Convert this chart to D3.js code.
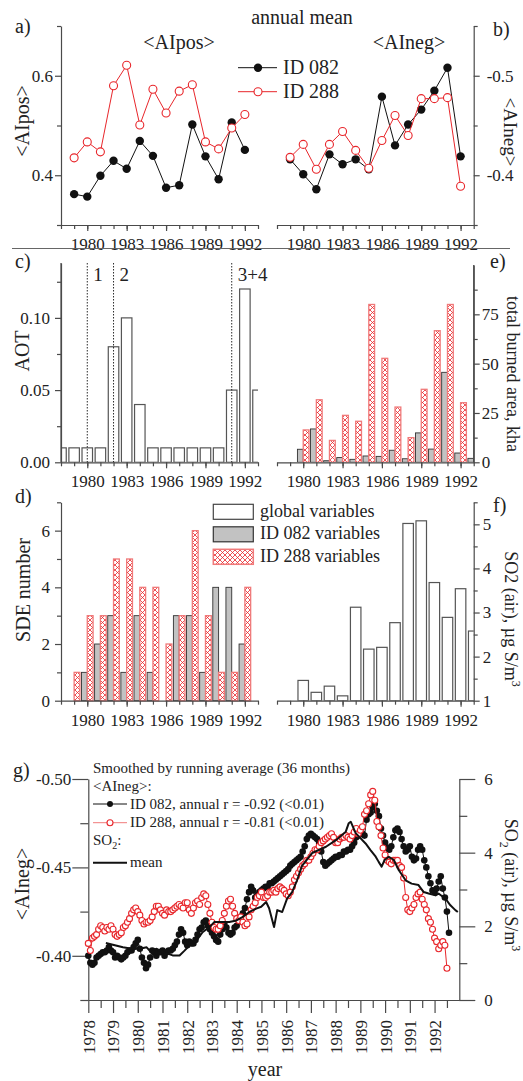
<!DOCTYPE html>
<html>
<head>
<meta charset="utf-8">
<script src="https://cdn.jsdelivr.net/npm/d3@7"></script>
<style>
  html, body { margin: 0; padding: 0; background: #fff; }
  svg { display: block; }
</style>
</head>
<body>
<div id="chart"></div>
<script>
// --- annual means, panels a) and b) ---
const annualYears = [1979, 1980, 1981, 1982, 1983, 1984, 1985, 1986, 1987, 1988, 1989, 1990, 1991, 1992];
const aiPos082 = [0.362, 0.357, 0.399, 0.429, 0.413, 0.469, 0.439, 0.375, 0.380, 0.502, 0.438, 0.392, 0.506, 0.451];
const aiPos288 = [0.435, 0.467, 0.447, 0.580, 0.621, 0.501, 0.573, 0.525, 0.569, 0.582, 0.467, 0.453, 0.495, 0.522];
const aiNeg082 = [-0.416, -0.401, -0.386, -0.421, -0.411, -0.416, -0.406, -0.479, -0.430, -0.451, -0.466, -0.485, -0.508, -0.419];
const aiNeg288 = [-0.418, -0.431, -0.406, -0.431, -0.444, -0.425, -0.407, -0.435, -0.460, -0.440, -0.477, -0.477, -0.478, -0.389];

// --- c) aerosol optical thickness ---
const aotYears = [1978, 1979, 1980, 1981, 1982, 1983, 1984, 1985, 1986, 1987, 1988, 1989, 1990, 1991, 1992, 1993];
const aot = [0.01, 0.01, 0.01, 0.01, 0.08, 0.10, 0.04, 0.01, 0.01, 0.01, 0.01, 0.01, 0.01, 0.05, 0.12, 0.05];
const eruptionYears = [1980, 1982, 1991];
const eruptionLabels = ['1', '2', '3+4'];

// --- e) total burned area, kha ---
const burnYears = [1980, 1981, 1982, 1983, 1984, 1985, 1986, 1987, 1988, 1989, 1990, 1991, 1992, 1993];
const burn082 = [6.6, 16.9, 0.8, 2.4, 1.5, 3.2, 3.0, 6.1, 1.8, 14.9, 6.7, 45.6, 4.7, 2.0];
const burn288 = [16.4, 31.7, 11.1, 23.8, 20.8, 80, 52.7, 28, 12.5, 37, 66.7, 80, 30.2, 0];

// --- d) SDE number ---
const sdeYears = [1979, 1980, 1981, 1982, 1983, 1984, 1985, 1986, 1987, 1988, 1989, 1990, 1991, 1992];
const sde082 = [0, 1, 2, 3, 1, 3, 1, 0, 3, 3, 1, 4, 4, 2];
const sde288 = [1, 3, 3, 5, 5, 4, 4, 2, 3, 6, 3, 1, 1, 4];

// --- f) SO2 (air) ---
const so2Years = [1980, 1981, 1982, 1983, 1984, 1985, 1986, 1987, 1988, 1989, 1990, 1991, 1992, 1993];
const so2 = [1.46, 1.19, 1.33, 1.11, 3.12, 2.17, 2.21, 2.77, 5.02, 5.08, 3.68, 2.89, 3.54, 2.58];

// --- g) monthly smoothed <AIneg>, first value at Jan 1978 ---
const smooth082 = [
  -0.400, -0.396, -0.395, -0.396, -0.399, -0.400, -0.401, -0.402, -0.402, -0.403, -0.405, -0.403,
  -0.402, -0.399, -0.400, -0.399, -0.398, -0.399, -0.400, -0.402, -0.403, -0.403, -0.405, -0.407,
  -0.409, -0.404, -0.399, -0.396, -0.393, -0.395, -0.399, -0.403, -0.402, -0.400, -0.402, -0.402,
  -0.403, -0.400, -0.402, -0.403, -0.403, -0.404, -0.406, -0.408, -0.412, -0.415, -0.413, -0.408,
  -0.406, -0.408, -0.407, -0.407, -0.409, -0.412, -0.415, -0.416, -0.419, -0.420, -0.417, -0.415,
  -0.413, -0.411, -0.409, -0.408, -0.412, -0.415, -0.418, -0.416, -0.413, -0.412, -0.413, -0.416,
  -0.417, -0.420, -0.421, -0.424, -0.427, -0.432, -0.436, -0.439, -0.437, -0.433, -0.434, -0.436,
  -0.437, -0.438, -0.439, -0.439, -0.441, -0.441, -0.442, -0.443, -0.444, -0.445, -0.446, -0.447,
  -0.448, -0.449, -0.451, -0.452, -0.453, -0.454, -0.455, -0.456, -0.459, -0.462, -0.466, -0.468,
  -0.469, -0.468, -0.467, -0.466, -0.464, -0.459, -0.453, -0.451, -0.452, -0.453, -0.454, -0.455,
  -0.456, -0.456, -0.457, -0.457, -0.459, -0.459, -0.460, -0.460, -0.462, -0.464, -0.467, -0.468,
  -0.469, -0.469, -0.468, -0.477, -0.480, -0.481, -0.484, -0.486, -0.482, -0.479, -0.472, -0.468,
  -0.464, -0.461, -0.460, -0.462, -0.467, -0.471, -0.472, -0.470, -0.466, -0.462, -0.459, -0.460,
  -0.462, -0.456, -0.454, -0.455, -0.460, -0.462, -0.460, -0.454, -0.450, -0.445, -0.441, -0.437,
  -0.436, -0.438, -0.442, -0.445, -0.438, -0.433, -0.425, -0.413
];
const smooth288 = [
  -0.407, -0.403, -0.410, -0.411, -0.412, -0.415, -0.417, -0.416, -0.414, -0.416, -0.415, -0.417,
  -0.415, -0.412, -0.411, -0.412, -0.413, -0.416, -0.417, -0.419, -0.421, -0.424, -0.426, -0.427,
  -0.425, -0.423, -0.420, -0.418, -0.419, -0.419, -0.420, -0.422, -0.425, -0.428, -0.428, -0.426,
  -0.424, -0.423, -0.426, -0.425, -0.425, -0.426, -0.427, -0.428, -0.429, -0.428, -0.427, -0.430,
  -0.430, -0.426, -0.424, -0.427, -0.430, -0.431, -0.429, -0.433, -0.435, -0.434, -0.429, -0.424,
  -0.419, -0.416, -0.415, -0.415, -0.417, -0.420, -0.424, -0.428, -0.431, -0.432, -0.428, -0.424,
  -0.421, -0.420, -0.422, -0.419, -0.417, -0.418, -0.422, -0.426, -0.428, -0.430, -0.433, -0.434,
  -0.436, -0.433, -0.433, -0.434, -0.436, -0.436, -0.437, -0.436, -0.438, -0.439, -0.438, -0.437,
  -0.435, -0.434, -0.436, -0.439, -0.443, -0.445, -0.447, -0.449, -0.451, -0.452, -0.454, -0.454,
  -0.456, -0.458, -0.460, -0.460, -0.462, -0.464, -0.465, -0.466, -0.467, -0.468, -0.469, -0.467,
  -0.464, -0.464, -0.466, -0.467, -0.467, -0.468, -0.467, -0.466, -0.468, -0.470, -0.472, -0.469,
  -0.471, -0.473, -0.480, -0.482, -0.486, -0.491, -0.493, -0.488, -0.476, -0.473, -0.468, -0.461,
  -0.457, -0.454, -0.453, -0.452, -0.454, -0.454, -0.454, -0.451, -0.450, -0.444, -0.433, -0.426,
  -0.425, -0.427, -0.429, -0.433, -0.435, -0.436, -0.432, -0.429, -0.426, -0.421, -0.419, -0.415,
  -0.410, -0.408, -0.404, -0.406, -0.408, -0.406, -0.393
];
// SO2 mean (running average)
const so2MeanYears = [
  1978.71, 1978.99, 1979.40, 1979.76, 1980.08, 1980.36, 1980.48, 1980.77, 1981.01, 1981.21,
  1981.41, 1981.69, 1981.89, 1982.09, 1982.38, 1982.62, 1982.90, 1983.10, 1983.70, 1983.99,
  1984.23, 1984.51, 1984.79, 1984.99, 1985.19, 1985.31, 1985.51, 1985.64, 1985.84, 1986.04,
  1986.24, 1986.44, 1986.64, 1987.05, 1987.61, 1988.01, 1988.41, 1988.53, 1988.61, 1988.81,
  1989.21, 1989.41, 1989.62, 1989.74, 1989.86, 1989.98, 1990.15, 1990.35, 1990.55, 1990.83,
  1991.07, 1991.35, 1991.56, 1991.76, 1992.04, 1992.16, 1992.44, 1992.64, 1992.84, 1992.94
];
const so2Mean = [
  1.55, 1.50, 1.43, 1.39, 1.39, 1.43, 1.34, 1.39, 1.30, 1.26,
  1.21, 1.21, 1.34, 1.48, 1.62, 1.84, 1.98, 2.12, 2.12, 2.16,
  2.25, 2.39, 2.48, 2.53, 2.66, 2.49, 1.98, 2.44, 2.39, 2.76,
  2.93, 3.25, 3.64, 3.99, 4.16, 4.34, 4.57, 4.80, 4.84, 4.53,
  4.25, 4.07, 3.89, 3.75, 3.62, 3.80, 3.89, 3.80, 3.53, 3.25,
  3.16, 3.12, 2.93, 2.89, 2.84, 2.89, 2.75, 2.57, 2.44, 2.39
];

const yearLabels = [1980, 1983, 1986, 1989, 1992];
const allYears = d3.range(1978, 1994);

// --- look ---
const W = 523, H = 1081;
const FONT = '"Liberation Serif", "Times New Roman", serif';
const AX = '#4a4a4a';
const TXT = '#222';
const RED = '#e8262b';
const RED_SOFT = '#f07a7a';

const svg = d3.select('#chart').append('svg')
  .attr('width', W)
  .attr('height', H)
  .attr('viewBox', `0 0 ${W} ${H}`);
svg.append('rect').attr('width', W).attr('height', H).attr('fill', '#fff');

const defs = svg.append('defs');
const hatch = defs.append('pattern')
  .attr('id', 'hatch')
  .attr('patternUnits', 'userSpaceOnUse')
  .attr('width', 5).attr('height', 5);
hatch.append('rect').attr('width', 5).attr('height', 5).attr('fill', '#fff');
hatch.append('path').attr('d', 'M0,0L5,5M5,0L0,5').attr('stroke', RED).attr('stroke-width', 0.8);

function clip(id, x0, y0, x1, y1) {
  defs.append('clipPath').attr('id', id).append('rect')
    .attr('x', x0).attr('y', y0).attr('width', x1 - x0).attr('height', y1 - y0);
}

function text(x, y, s, size, opts = {}) {
  const t = svg.append('text')
    .attr('x', x).attr('y', y)
    .attr('font-family', FONT)
    .attr('font-size', size)
    .attr('fill', TXT)
    .attr('text-anchor', opts.anchor || 'start')
    .text(s);
  if (opts.transform) t.attr('transform', opts.transform).attr('x', 0).attr('y', 0);
  return t;
}

function styleAxis(g) {
  g.attr('font-size', null).attr('font-family', null);
  g.selectAll('.domain').attr('stroke', AX).attr('stroke-width', 1.2);
  g.selectAll('.tick line').attr('stroke', AX).attr('stroke-width', 1.2);
  g.selectAll('text').attr('font-family', FONT).attr('font-size', 17).attr('fill', TXT);
}

// one axis with short unlabeled ticks and a second one with longer labeled ticks
function axisPair(makeGen, transform, majors, minors, majSize, minSize, pad, fmt) {
  const g1 = svg.append('g').attr('transform', transform)
    .call(makeGen().tickValues(minors).tickSize(minSize).tickSizeOuter(0).tickFormat(''));
  const g2 = svg.append('g').attr('transform', transform)
    .call(makeGen().tickValues(majors).tickSize(majSize).tickSizeOuter(0).tickPadding(pad).tickFormat(fmt));
  g2.select('.domain').remove();
  styleAxis(g1);
  styleAxis(g2);
  return g2;
}

function dotSeries(xs, ys, yrs, vals, color, lineColor, filled, r) {
  const pts = vals.map((v, i) => [yrs[i], v]);
  svg.append('path').datum(pts)
    .attr('fill', 'none')
    .attr('stroke', lineColor)
    .attr('stroke-width', 1)
    .attr('d', d3.line().x(d => xs(d[0])).y(d => ys(d[1])));
  svg.append('g').selectAll('circle').data(pts).join('circle')
    .attr('cx', d => xs(d[0]))
    .attr('cy', d => ys(d[1]))
    .attr('r', r)
    .attr('fill', filled ? color : '#fff')
    .attr('stroke', filled ? 'none' : color)
    .attr('stroke-width', 1.1);
}

const fYear = d3.format('d');

// ================= a) <AIpos> =================
const xA = d3.scaleLinear().domain([1978, 1993]).range([61, 258]);
const yA = d3.scaleLinear().domain([0.3, 0.7]).range([225, 26]);
axisPair(() => d3.axisBottom(xA), 'translate(0,225)', yearLabels, allYears, 6, 4, 7, fYear);
axisPair(() => d3.axisLeft(yA), 'translate(61,0)', [0.4, 0.6], [0.3, 0.5, 0.7], 6, 4, 2, d => d.toFixed(1));
dotSeries(xA, yA, annualYears, aiPos082, '#111', '#111', true, 4.2);
dotSeries(xA, yA, annualYears, aiPos288, RED, RED, false, 4);

// ================= b) <AIneg> =================
const xB = d3.scaleLinear().domain([1978, 1993]).range([277, 473.7]);
const yB = d3.scaleLinear().domain([-0.35, -0.55]).range([225, 26]);
axisPair(() => d3.axisBottom(xB), 'translate(0,225)', yearLabels, allYears, 6, 4, 7, fYear);
axisPair(() => d3.axisRight(yB), 'translate(473.7,0)', [-0.4, -0.5], [-0.35, -0.45, -0.55], 6, 4, 7, d => d.toFixed(1));
dotSeries(xB, yB, annualYears, aiNeg082, '#111', '#111', true, 4.2);
dotSeries(xB, yB, annualYears, aiNeg288, RED, RED, false, 4);

text(302, 24, 'annual mean', 20, { anchor: 'middle' });
text(179, 49, '<AIpos>', 20, { anchor: 'middle' });
text(409, 49, '<AIneg>', 20, { anchor: 'middle' });
text(15, 33, 'a)', 20);
text(493, 36, 'b)', 20);
text(0, 0, '<AIpos>', 20, { anchor: 'middle', transform: 'translate(29,121) rotate(-90)' });
text(0, 0, '<AIneg>', 19, { anchor: 'middle', transform: 'translate(504,132) rotate(90)' });

// legend a/b
svg.append('line').attr('x1', 238).attr('x2', 277).attr('y1', 67.7).attr('y2', 67.7).attr('stroke', '#111');
svg.append('circle').attr('cx', 258).attr('cy', 67.7).attr('r', 4.2).attr('fill', '#111');
svg.append('line').attr('x1', 238).attr('x2', 277).attr('y1', 91.7).attr('y2', 91.7).attr('stroke', RED);
svg.append('circle').attr('cx', 258).attr('cy', 91.7).attr('r', 4).attr('fill', '#fff').attr('stroke', RED).attr('stroke-width', 1.1);
text(283, 74, 'ID 082', 20);
text(283, 98, 'ID 288', 20);

// separator
svg.append('line').attr('x1', 12).attr('x2', 510).attr('y1', 248.5).attr('y2', 248.5)
  .attr('stroke', '#666').attr('stroke-width', 1.2);

// ================= c) AOT =================
const yC = d3.scaleLinear().domain([0, 0.138]).range([462.3, 263]);
clip('clipC', 61, 250, 258, 462.3);
svg.append('g').attr('clip-path', 'url(#clipC)')
  .selectAll('rect').data(aot).join('rect')
  .attr('x', (d, i) => xA(aotYears[i]) - 5.25)
  .attr('width', 10.5)
  .attr('y', d => yC(d))
  .attr('height', d => yC(0) - yC(d))
  .attr('fill', '#fff')
  .attr('stroke', '#555')
  .attr('stroke-width', 1.2);
svg.append('g').selectAll('line').data(eruptionYears).join('line')
  .attr('x1', d => xA(d)).attr('x2', d => xA(d))
  .attr('y1', 263).attr('y2', 462.3)
  .attr('stroke', '#111').attr('stroke-width', 0.9)
  .attr('stroke-dasharray', '1.5,1.5');
eruptionLabels.forEach((s, i) => {
  text(xA(eruptionYears[i]) + 6, 281, s, 19);
});
axisPair(() => d3.axisBottom(xA), 'translate(0,462.3)', yearLabels, allYears, 6, 4, 7, fYear);
axisPair(() => d3.axisLeft(yC), 'translate(61,0)', [0, 0.05, 0.10], [0.025, 0.075, 0.125], 6, 4, 5, d => d.toFixed(2));
// axis line to the top
svg.append('line').attr('x1', 61).attr('x2', 61).attr('y1', 263).attr('y2', 462.3).attr('stroke', AX).attr('stroke-width', 1.2);
text(15, 268, 'c)', 20);
text(0, 0, 'AOT', 20, { anchor: 'middle', transform: 'translate(29,351) rotate(-90)' });

// ================= e) burned area =================
const yE = d3.scaleLinear().domain([0, 100]).range([462.3, 265]);
clip('clipE', 277, 250, 473.7, 462.3);
const gE = svg.append('g').attr('clip-path', 'url(#clipE)');
gE.selectAll('rect.g').data(burn082).join('rect').attr('class', 'g')
  .attr('x', (d, i) => xB(burnYears[i]) - 5.8)
  .attr('width', 5.8)
  .attr('y', d => yE(d))
  .attr('height', d => yE(0) - yE(d))
  .attr('fill', '#c2c2c2').attr('stroke', '#333').attr('stroke-width', 0.9);
gE.selectAll('rect.r').data(burn288).join('rect').attr('class', 'r')
  .attr('x', (d, i) => xB(burnYears[i]))
  .attr('width', 5.8)
  .attr('y', d => yE(d))
  .attr('height', d => yE(0) - yE(d))
  .attr('fill', 'url(#hatch)').attr('stroke', RED_SOFT).attr('stroke-width', 1.3);
axisPair(() => d3.axisBottom(xB), 'translate(0,462.3)', yearLabels, allYears, 6, 4, 7, fYear);
axisPair(() => d3.axisRight(yE), 'translate(473.7,0)', [0, 25, 50, 75], [12.5, 37.5, 62.5, 87.5], 6, 4, 2, d3.format('d'));
svg.append('line').attr('x1', 473.7).attr('x2', 473.7).attr('y1', 265).attr('y2', 462.3).attr('stroke', AX).attr('stroke-width', 1.2);
text(490, 268, 'e)', 20);
text(0, 0, 'total burned area, kha', 18, { anchor: 'middle', transform: 'translate(507,374) rotate(90)' });

// ================= d) SDE number =================
const yD = d3.scaleLinear().domain([0, 7]).range([700.7, 502.3]);
const gD = svg.append('g');
gD.selectAll('rect.g').data(sde082).join('rect').attr('class', 'g')
  .attr('x', (d, i) => xA(sdeYears[i]) - 5.8)
  .attr('width', 5.8)
  .attr('y', d => yD(d))
  .attr('height', d => yD(0) - yD(d))
  .attr('fill', '#c2c2c2').attr('stroke', '#333').attr('stroke-width', 0.9)
  .attr('display', d => d > 0 ? null : 'none');
gD.selectAll('rect.r').data(sde288).join('rect').attr('class', 'r')
  .attr('x', (d, i) => xA(sdeYears[i]))
  .attr('width', 5.8)
  .attr('y', d => yD(d))
  .attr('height', d => yD(0) - yD(d))
  .attr('fill', 'url(#hatch)').attr('stroke', RED_SOFT).attr('stroke-width', 1.3)
  .attr('display', d => d > 0 ? null : 'none');
axisPair(() => d3.axisBottom(xA), 'translate(0,700.7)', yearLabels, allYears, 6, 4, 7, fYear);
axisPair(() => d3.axisLeft(yD), 'translate(61,0)', [0, 2, 4, 6], [1, 3, 5, 7], 6, 4, 5, d3.format('d'));
text(15, 503, 'd)', 20);
text(0, 0, 'SDE number', 20, { anchor: 'middle', transform: 'translate(30,590) rotate(-90)' });

// legend d
const legendD = [
  { label: 'global variables', fill: '#fff', stroke: '#444', w: 1.2 },
  { label: 'ID 082 variables', fill: '#c2c2c2', stroke: '#333', w: 1.2 },
  { label: 'ID 288 variables', fill: 'url(#hatch)', stroke: RED_SOFT, w: 1.5 }
];
legendD.forEach((d, i) => {
  const y = 504.3 + i * 22.5;
  svg.append('rect').attr('x', 213.3).attr('y', y).attr('width', 40).attr('height', 15)
    .attr('fill', d.fill).attr('stroke', d.stroke).attr('stroke-width', d.w);
  text(260, y + 12.5, d.label, 18);
});

// ================= f) SO2 =================
const yF = d3.scaleLinear().domain([1, 5.5]).range([700.7, 502.3]);
clip('clipF', 277, 490, 473.7, 700.7);
svg.append('g').attr('clip-path', 'url(#clipF)')
  .selectAll('rect').data(so2).join('rect')
  .attr('x', (d, i) => xB(so2Years[i]) - 5.25)
  .attr('width', 10.5)
  .attr('y', d => yF(d))
  .attr('height', d => yF(1) - yF(d))
  .attr('fill', '#fff').attr('stroke', '#555').attr('stroke-width', 1.2);
axisPair(() => d3.axisBottom(xB), 'translate(0,700.7)', yearLabels, allYears, 6, 4, 7, fYear);
axisPair(() => d3.axisRight(yF), 'translate(473.7,0)', [1, 2, 3, 4, 5], [1.5, 2.5, 3.5, 4.5, 5.5], 6, 4, 3, d3.format('d'));
text(493, 512, 'f)', 20);
const fLab = text(0, 0, 'SO2 (air), µg S/m', 18, { anchor: 'middle', transform: 'translate(505,619) rotate(90)' });
fLab.append('tspan').attr('dy', -7).attr('font-size', 12).text('3');

// ================= g) smoothed time series =================
const xG = d3.scaleLinear().domain([1978, 1993]).range([88.3, 459.3]);
const yG = d3.scaleLinear().domain([-0.375, -0.5]).range([1000, 779]);
const yG2 = d3.scaleLinear().domain([0, 6]).range([1000, 779]);

const gx = axisPair(() => d3.axisBottom(xG), 'translate(0,1000)', d3.range(1978, 1993), d3.range(1978.5, 1993, 1), 13, 8, 7, fYear);
gx.selectAll('text')
  .attr('transform', 'rotate(-90)')
  .attr('text-anchor', 'end')
  .attr('x', -20)
  .attr('y', 0)
  .attr('dy', '0.35em');
axisPair(() => d3.axisLeft(yG), 'translate(88.3,0)', [-0.5, -0.45, -0.4], [-0.475, -0.425, -0.375], 16, 8, 1, d => d.toFixed(2));
axisPair(() => d3.axisRight(yG2), 'translate(459.3,0)', [0, 2, 4, 6], [1, 3, 5], 16, 8, 9, d3.format('d'));

const monthYears082 = smooth082.map((d, i) => 1978 + i / 12);
const monthYears288 = smooth288.map((d, i) => 1978 + i / 12);
dotSeries(xG, yG, monthYears082, smooth082, '#111', '#111', true, 3.3);
dotSeries(xG, yG, monthYears288, smooth288, RED, RED, false, 3);
svg.append('path')
  .datum(so2Mean.map((v, i) => [so2MeanYears[i], v]))
  .attr('fill', 'none')
  .attr('stroke', '#111')
  .attr('stroke-width', 2)
  .attr('stroke-linejoin', 'round')
  .attr('d', d3.line().x(d => xG(d[0])).y(d => yG2(d[1])));

text(13, 777, 'g)', 20);
text(0, 0, '<AIneg>', 20, { anchor: 'middle', transform: 'translate(29,884) rotate(-90)' });
const gLab = text(0, 0, 'SO', 18, { anchor: 'middle', transform: 'translate(505,885) rotate(90)' });
gLab.append('tspan').attr('dy', 5).attr('font-size', 12).text('2');
gLab.append('tspan').attr('dy', -5).text(' (air), µg S/m');
gLab.append('tspan').attr('dy', -7).attr('font-size', 12).text('3');
text(265, 1076, 'year', 20, { anchor: 'middle' });

// legend g
text(93, 773, 'Smoothed by running average (36 months)', 15);
text(93, 791, '<AIneg>:', 15);
svg.append('line').attr('x1', 93).attr('x2', 127).attr('y1', 804).attr('y2', 804).attr('stroke', '#111');
svg.append('circle').attr('cx', 110).attr('cy', 804).attr('r', 3).attr('fill', '#111');
text(130, 809, 'ID 082, annual r = -0.92 (<0.01)', 15);
svg.append('line').attr('x1', 93).attr('x2', 127).attr('y1', 822.7).attr('y2', 822.7).attr('stroke', RED_SOFT);
svg.append('circle').attr('cx', 110).attr('cy', 822.7).attr('r', 3).attr('fill', '#fff').attr('stroke', RED).attr('stroke-width', 1.1);
text(130, 827, 'ID 288, annual r = -0.81 (<0.01)', 15);
const soLeg = text(93, 845, 'SO', 15);
soLeg.append('tspan').attr('dy', 4).attr('font-size', 10).text('2');
soLeg.append('tspan').attr('dy', -4).text(':');
svg.append('line').attr('x1', 93).attr('x2', 127).attr('y1', 862.7).attr('y2', 862.7).attr('stroke', '#111').attr('stroke-width', 2);
text(130, 867, 'mean', 15);
</script>
</body>
</html>
